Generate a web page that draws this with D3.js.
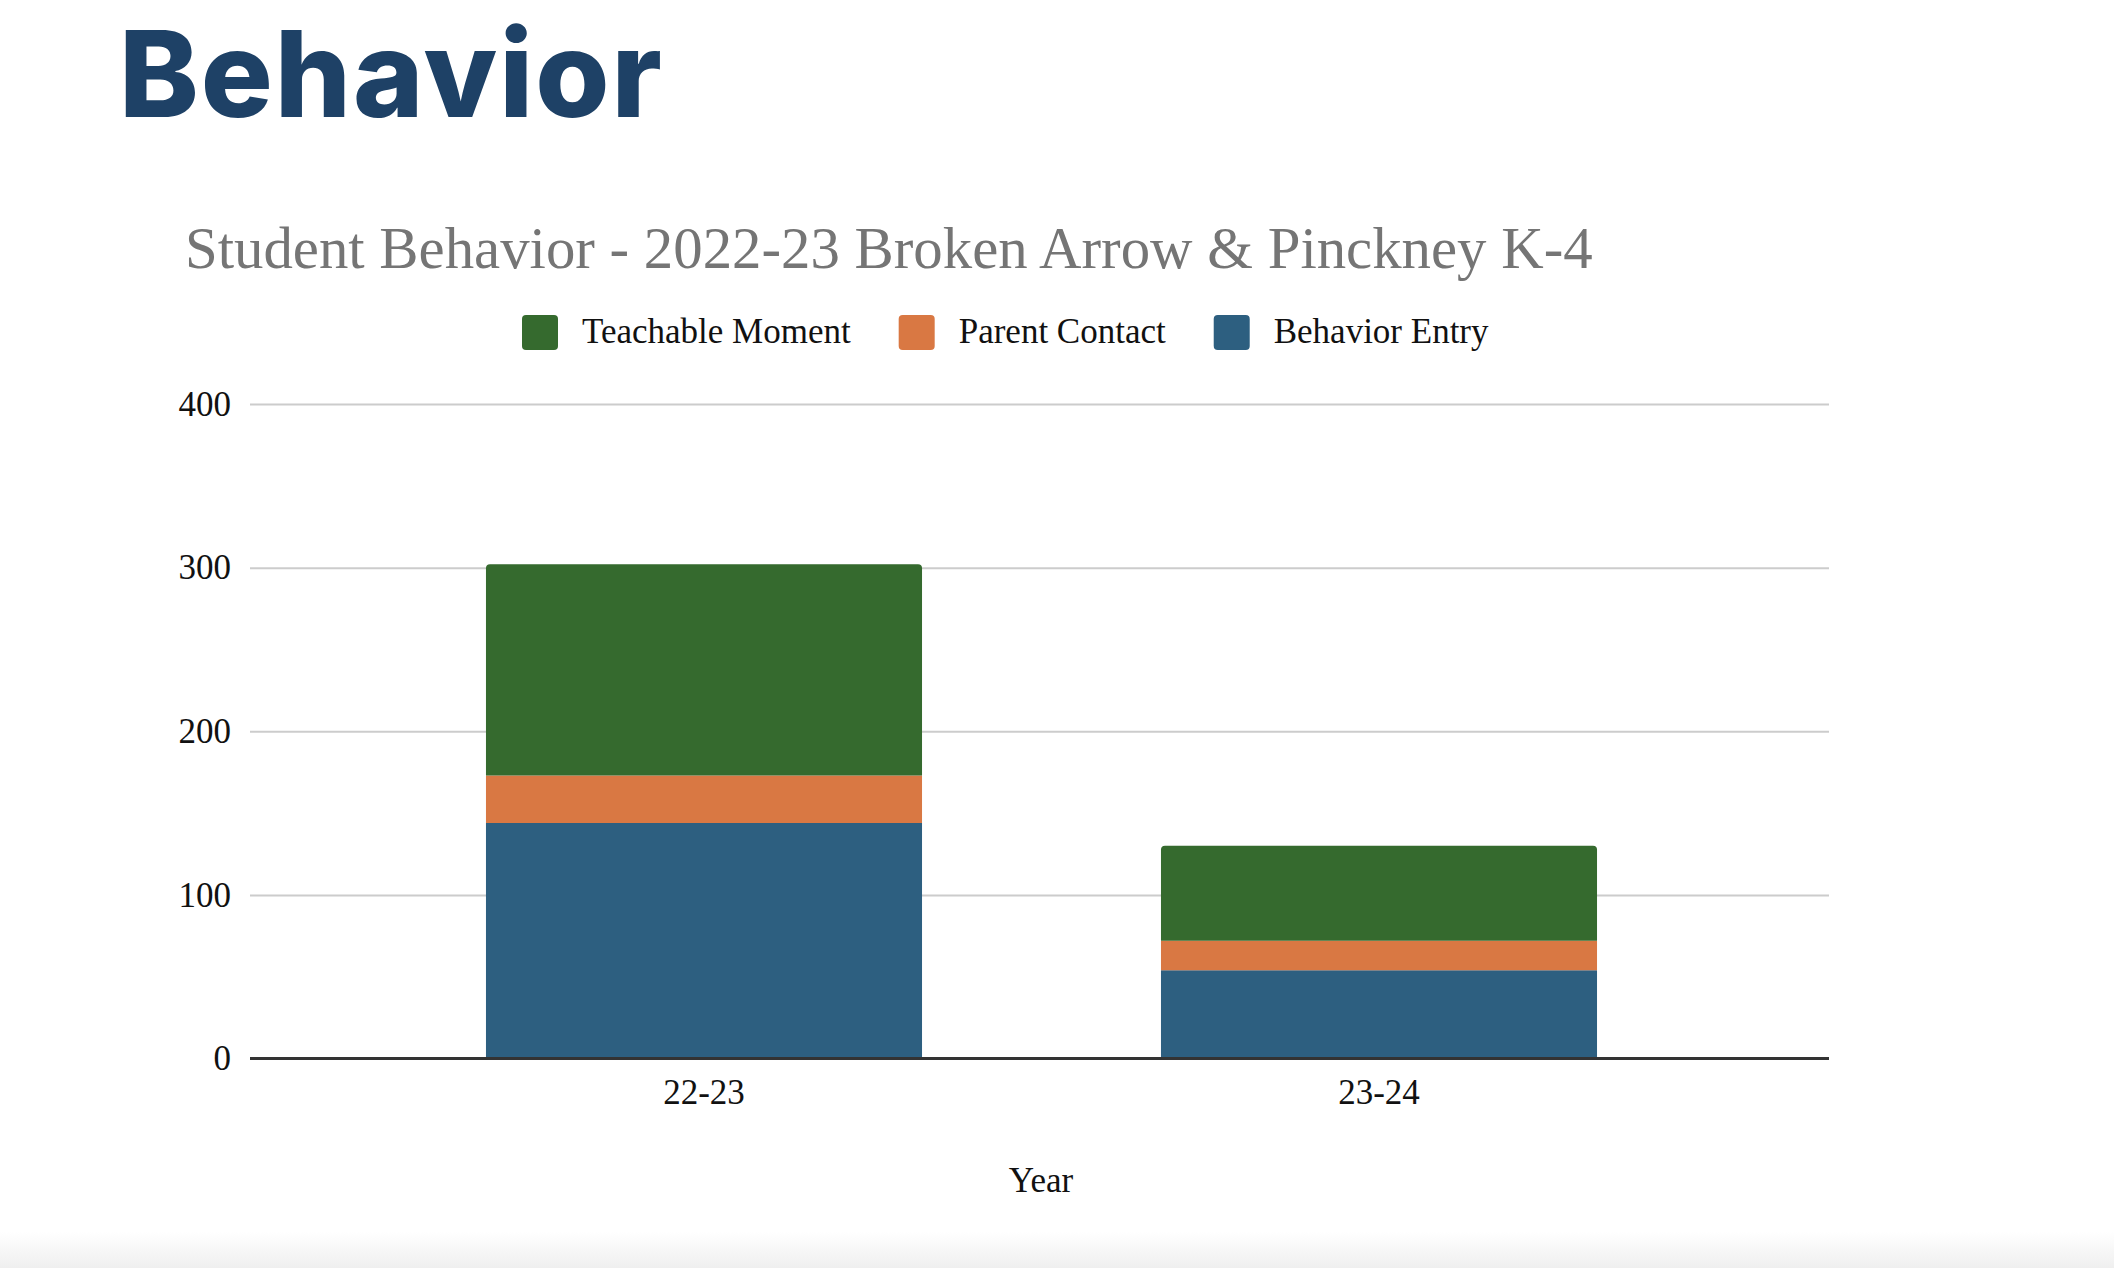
<!DOCTYPE html>
<html>
<head>
<meta charset="utf-8">
<script src="https://cdn.jsdelivr.net/npm/d3@7"></script>
<style>
  html, body { margin: 0; padding: 0; background: #fff; }
  svg { display: block; }
</style>
</head>
<body>
<svg id="chart" width="2114" height="1268"></svg>
<script>
// values
const years = ["22-23", "23-24"];
const behaviorEntry = [144, 54];
const parentContact = [29, 18];
const teachableMoment = [129, 58];
const yTicks = [0, 100, 200, 300, 400];

const seriesKeys = ["Behavior Entry", "Parent Contact", "Teachable Moment"];
const legendKeys = ["Teachable Moment", "Parent Contact", "Behavior Entry"];
const colors = {
    "Behavior Entry": "#2d5f80",
    "Parent Contact": "#d97843",
    "Teachable Moment": "#356a2e"
};

const table = years.map((yr, i) => ({
    year: yr,
    "Behavior Entry": behaviorEntry[i],
    "Parent Contact": parentContact[i],
    "Teachable Moment": teachableMoment[i]
}));

const svg = d3.select("#chart");
const serif = "'Liberation Serif', 'Times New Roman', serif";

// slide bottom shading
const defs = svg.append("defs");
const grad = defs.append("linearGradient")
    .attr("id", "shade").attr("x1", 0).attr("y1", 0).attr("x2", 0).attr("y2", 1);
grad.append("stop").attr("offset", "0%").attr("stop-color", "#ffffff");
grad.append("stop").attr("offset", "100%").attr("stop-color", "#efefef");
svg.append("rect")
    .attr("x", 0).attr("y", 1232).attr("width", 2114).attr("height", 36)
    .attr("fill", "url(#shade)");

// slide heading
svg.append("text")
    .attr("x", 119).attr("y", 117)
    .attr("font-family", "Inter, 'Open Sans', sans-serif")
    .attr("font-weight", 800)
    .attr("font-size", 120)
    .attr("letter-spacing", 2)
    .attr("fill", "#1e4166")
    .text("Behavior");

// chart title
svg.append("text")
    .attr("x", 185).attr("y", 268)
    .attr("font-family", serif)
    .attr("font-size", 58.8)
    .attr("fill", "#757575")
    .text("Student Behavior - 2022-23 Broken Arrow & Pinckney K-4");

const plotLeft = 250, plotRight = 1829;

const y = d3.scaleLinear().domain([0, 400]).range([1058.5, 404]);
const x = d3.scaleBand()
    .domain(years)
    .range([366.5, 1716.5])
    .paddingInner(0.354)
    .paddingOuter(0.177);

// gridlines + y labels
const yAxis = svg.append("g")
    .attr("transform", "translate(" + plotLeft + ",0)")
    .call(d3.axisLeft(y).tickValues(yTicks).tickSize(-(plotRight - plotLeft)).tickPadding(19));
yAxis.select(".domain").remove();
yAxis.selectAll(".tick line")
    .attr("stroke", "#cccccc")
    .attr("stroke-width", 2);
yAxis.selectAll(".tick text")
    .attr("font-family", serif)
    .attr("font-size", 35)
    .attr("fill", "#111");

// stacked bars
const stacked = d3.stack().keys(seriesKeys)(table);
const r = 4;
function topRounded(x0, y0, w, h) {
    return "M" + x0 + "," + (y0 + h) +
        "V" + (y0 + r) +
        "Q" + x0 + "," + y0 + " " + (x0 + r) + "," + y0 +
        "H" + (x0 + w - r) +
        "Q" + (x0 + w) + "," + y0 + " " + (x0 + w) + "," + (y0 + r) +
        "V" + (y0 + h) + "Z";
}

const layers = svg.append("g").selectAll("g")
    .data(stacked)
    .enter().append("g")
        .attr("fill", d => colors[d.key]);

layers.selectAll("path")
    .data(d => d.map(p => ({ p: p, top: d.index === seriesKeys.length - 1 })))
    .enter().append("path")
        .attr("d", d => {
            const x0 = x(d.p.data.year);
            const y0 = y(d.p[1]);
            const h = y(d.p[0]) - y(d.p[1]);
            const w = x.bandwidth();
            if (d.top) return topRounded(x0, y0, w, h);
            return "M" + x0 + "," + y0 + "h" + w + "v" + h + "h" + (-w) + "Z";
        });

// baseline
svg.append("line")
    .attr("x1", plotLeft).attr("x2", plotRight)
    .attr("y1", y(0)).attr("y2", y(0))
    .attr("stroke", "#333")
    .attr("stroke-width", 3);

// x labels
const xAxis = svg.append("g")
    .attr("transform", "translate(0," + y(0) + ")")
    .call(d3.axisBottom(x).tickSize(0).tickPadding(21));
xAxis.select(".domain").remove();
xAxis.selectAll(".tick text")
    .attr("font-family", serif)
    .attr("font-size", 35)
    .attr("fill", "#111");

// axis title
svg.append("text")
    .attr("x", 1041).attr("y", 1192)
    .attr("text-anchor", "middle")
    .attr("font-family", serif)
    .attr("font-size", 35)
    .attr("fill", "#111")
    .text("Year");

// legend
const legend = svg.append("g");
let lx = 522;
legendKeys.forEach(k => {
    legend.append("rect")
        .attr("x", lx).attr("y", 315)
        .attr("width", 36).attr("height", 35)
        .attr("rx", 4)
        .attr("fill", colors[k]);
    const t = legend.append("text")
        .attr("x", lx + 60).attr("y", 343)
        .attr("font-family", serif)
        .attr("font-size", 35)
        .attr("fill", "#111")
        .text(k);
    lx += 60 + t.node().getComputedTextLength() + 48;
});
</script>
</body>
</html>
